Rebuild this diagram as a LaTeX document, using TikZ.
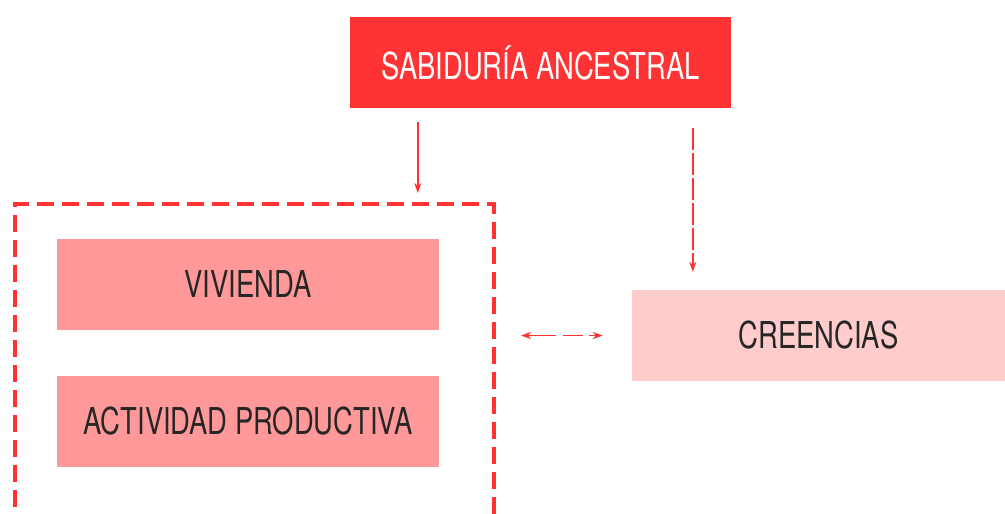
\documentclass[tikz,border=0pt]{standalone}
\usepackage{fontspec}
\setmainfont{TeX Gyre Heros}
\usetikzlibrary{arrows.meta}
\definecolor{rojo}{HTML}{FF3333}
\definecolor{rosa}{HTML}{FF9999}
\definecolor{rosaclaro}{HTML}{FFCCCC}
\newcommand{\etiq}[1]{\scalebox{0.74}[1]{#1}}

\begin{document}
\begin{tikzpicture}[x=1pt,y=-1pt,
   caja/.style={inner sep=0pt,minimum height=91pt,font=\fontsize{37}{40}\selectfont,text=black!85},
   flecha/.style={draw=rojo,line width=1.5pt,-{Stealth[length=10pt,width=7pt,inset=3pt]}},
   marco/.style={draw=rojo,line width=4pt,dash pattern=on 17pt off 8pt,inner sep=0pt}]
\useasboundingbox (0,0) rectangle (1005,514);
\node[caja,fill=rojo,text=white,minimum width=381pt] (sabiduria) at (540.5,62.5) {\etiq{SABIDURÍA ANCESTRAL}};
\node[marco,minimum width=479pt,minimum height=356pt] (grupo) at (254.5,382) {};
\node[caja,fill=rosa,minimum width=382pt] (vivienda) at (248,284.5) {\etiq{VIVIENDA}};
\node[caja,fill=rosa,minimum width=382pt] (actividad) at (248,421.5) {\etiq{ACTIVIDAD PRODUCTIVA}};
\node[caja,fill=rosaclaro,minimum width=373pt] (creencias) at (818.5,335.5) {\etiq{CREENCIAS}};
\draw[flecha,shorten <=14pt,shorten >=9pt] ([xshift=68pt]sabiduria.south west) -- ([xshift=68pt]sabiduria.south west |- grupo.north);
\draw[flecha,dash pattern=on 22pt off 3pt,shorten <=20pt,shorten >=18pt] ([xshift=343pt]sabiduria.south west) -- ([xshift=343pt]sabiduria.south west |- creencias.north);
\draw[flecha,{Stealth[length=10pt,width=7pt,inset=3pt]}-{Stealth[length=10pt,width=7pt,inset=3pt]},dash pattern=on 29pt off 7pt on 20pt off 6pt,shorten <=25pt,shorten >=29pt] (grupo.east |- creencias.west) -- (creencias.west);
\end{tikzpicture}
\end{document}
